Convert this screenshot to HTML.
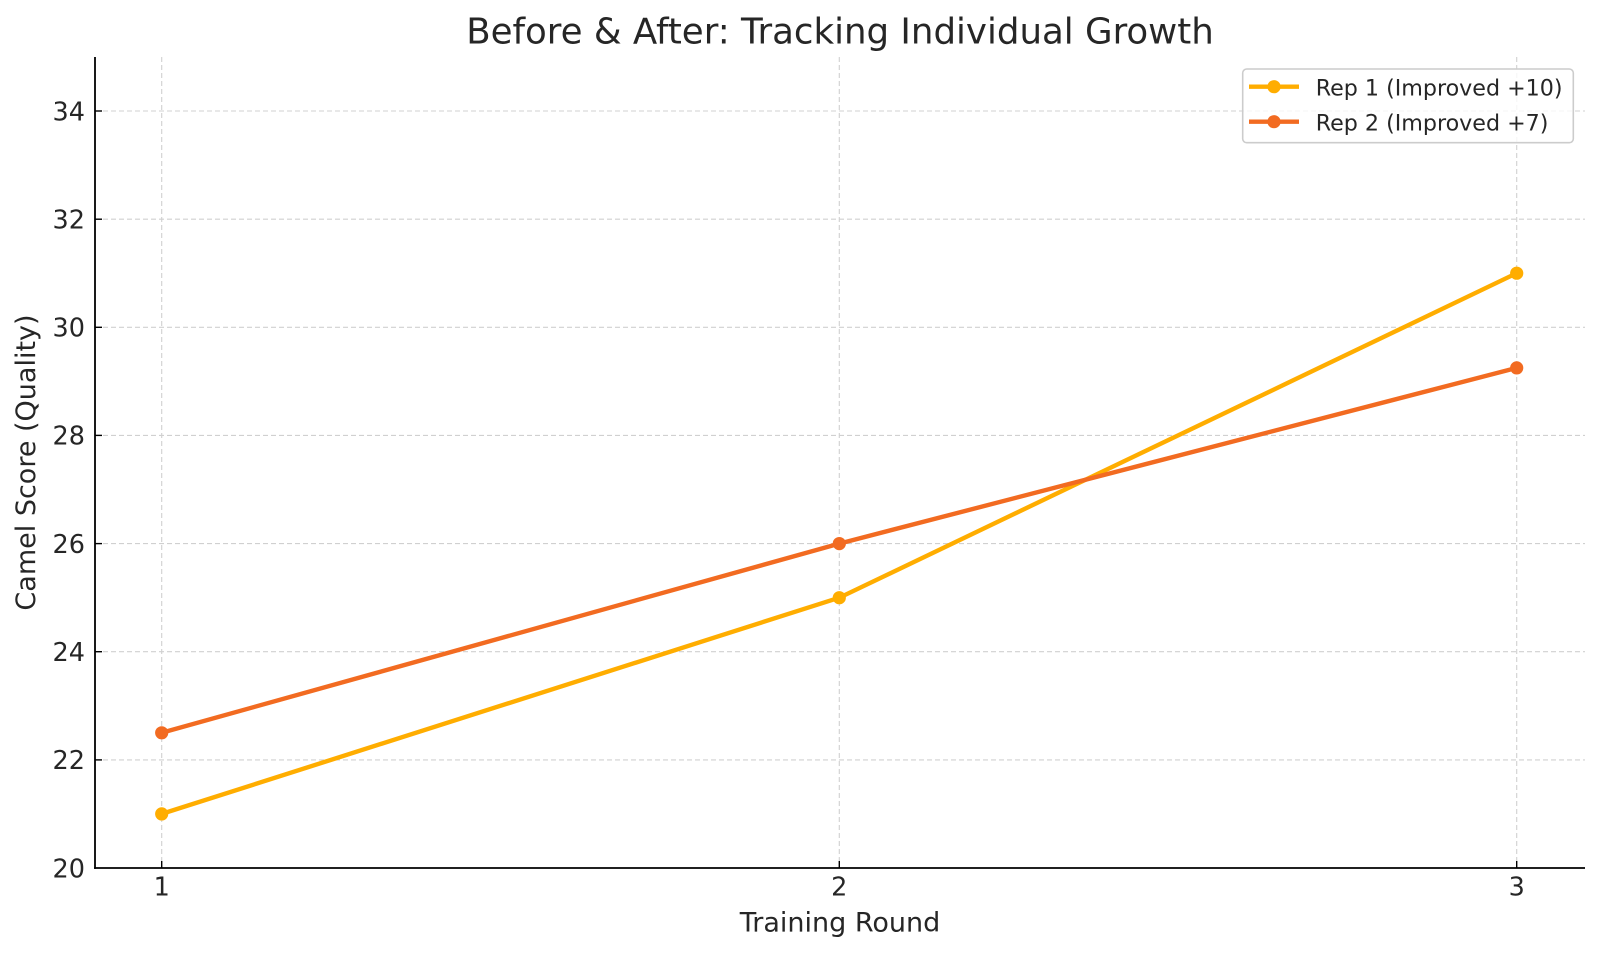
<!DOCTYPE html>
<html>
<head>
<meta charset="utf-8">
<style>
  html, body { margin: 0; padding: 0; background: #ffffff; }
  svg { display: block; }
  text { font-family: "DejaVu Sans", "Liberation Sans", sans-serif; fill: #262626; }
</style>
</head>
<body>
<svg width="1600" height="954" viewBox="0 0 1600 954" xmlns="http://www.w3.org/2000/svg">
  <rect x="0" y="0" width="1600" height="954" fill="#ffffff"/>

  <!-- grid -->
  <g stroke="#d0d0d0" stroke-width="1.1" stroke-dasharray="5,3" fill="none">
    <line x1="161.7" y1="57" x2="161.7" y2="868"/>
    <line x1="839.3" y1="57" x2="839.3" y2="868"/>
    <line x1="1516.7" y1="57" x2="1516.7" y2="868"/>
    <line x1="95" y1="759.9" x2="1585" y2="759.9"/>
    <line x1="95" y1="651.7" x2="1585" y2="651.7"/>
    <line x1="95" y1="543.6" x2="1585" y2="543.6"/>
    <line x1="95" y1="435.4" x2="1585" y2="435.4"/>
    <line x1="95" y1="327.3" x2="1585" y2="327.3"/>
    <line x1="95" y1="219.2" x2="1585" y2="219.2"/>
    <line x1="95" y1="111.0" x2="1585" y2="111.0"/>
  </g>

  <!-- series -->
  <polyline points="161.7,813.9 839.3,597.7 1516.7,273.2" fill="none" stroke="#FFAD00" stroke-width="4.4" stroke-linejoin="round" stroke-linecap="round"/>
  <g fill="#FFAD00">
    <circle cx="161.7" cy="813.9" r="6.6"/>
    <circle cx="839.3" cy="597.7" r="6.6"/>
    <circle cx="1516.7" cy="273.2" r="6.6"/>
  </g>
  <polyline points="161.7,732.8 839.3,543.6 1516.7,367.9" fill="none" stroke="#F26B21" stroke-width="4.4" stroke-linejoin="round" stroke-linecap="round"/>
  <g fill="#F26B21">
    <circle cx="161.7" cy="732.8" r="6.6"/>
    <circle cx="839.3" cy="543.6" r="6.6"/>
    <circle cx="1516.7" cy="367.9" r="6.6"/>
  </g>

  <!-- spines -->
  <line x1="95" y1="57" x2="95" y2="868.9" stroke="#000" stroke-width="1.8"/>
  <line x1="94.1" y1="868" x2="1585" y2="868" stroke="#000" stroke-width="1.8"/>

  <!-- ticks (inward) -->
  <g stroke="#000" stroke-width="1.4">
    <line x1="161.7" y1="868" x2="161.7" y2="861"/>
    <line x1="839.3" y1="868" x2="839.3" y2="861"/>
    <line x1="1516.7" y1="868" x2="1516.7" y2="861"/>
    <line x1="95" y1="759.9" x2="102" y2="759.9"/>
    <line x1="95" y1="651.7" x2="102" y2="651.7"/>
    <line x1="95" y1="543.6" x2="102" y2="543.6"/>
    <line x1="95" y1="435.4" x2="102" y2="435.4"/>
    <line x1="95" y1="327.3" x2="102" y2="327.3"/>
    <line x1="95" y1="219.2" x2="102" y2="219.2"/>
    <line x1="95" y1="111.0" x2="102" y2="111.0"/>
  </g>

  <!-- x tick labels -->
  <g font-size="25.5" text-anchor="middle">
    <text x="161.7" y="895.5">1</text>
    <text x="839.3" y="895.5">2</text>
    <text x="1516.7" y="895.5">3</text>
  </g>

  <!-- y tick labels -->
  <g font-size="25.5" text-anchor="end">
    <text x="85" y="877.3">20</text>
    <text x="85" y="769.2">22</text>
    <text x="85" y="661.0">24</text>
    <text x="85" y="552.9">26</text>
    <text x="85" y="444.7">28</text>
    <text x="85" y="336.6">30</text>
    <text x="85" y="228.5">32</text>
    <text x="85" y="120.3">34</text>
  </g>

  <!-- axis labels -->
  <text x="840" y="931.5" font-size="27" text-anchor="middle">Training Round</text>
  <text transform="translate(35,462.5) rotate(-90)" x="0" y="0" font-size="27" text-anchor="middle">Camel Score (Quality)</text>

  <!-- title -->
  <text x="840" y="43.5" font-size="35.6" text-anchor="middle">Before &amp; After: Tracking Individual Growth</text>

  <!-- legend -->
  <rect x="1242.7" y="69" width="330.6" height="73.7" rx="4" ry="4" fill="#ffffff" fill-opacity="0.8" stroke="#cccccc" stroke-width="1.6"/>
  <line x1="1249" y1="86.7" x2="1299" y2="86.7" stroke="#FFAD00" stroke-width="4.4"/>
  <circle cx="1274" cy="86.7" r="6.6" fill="#FFAD00"/>
  <line x1="1249" y1="121.7" x2="1299" y2="121.7" stroke="#F26B21" stroke-width="4.4"/>
  <circle cx="1274" cy="121.7" r="6.6" fill="#F26B21"/>
  <g font-size="22.2">
    <text x="1315.7" y="95.3">Rep 1 (Improved +10)</text>
    <text x="1315.7" y="130.3">Rep 2 (Improved +7)</text>
  </g>
</svg>
</body>
</html>
